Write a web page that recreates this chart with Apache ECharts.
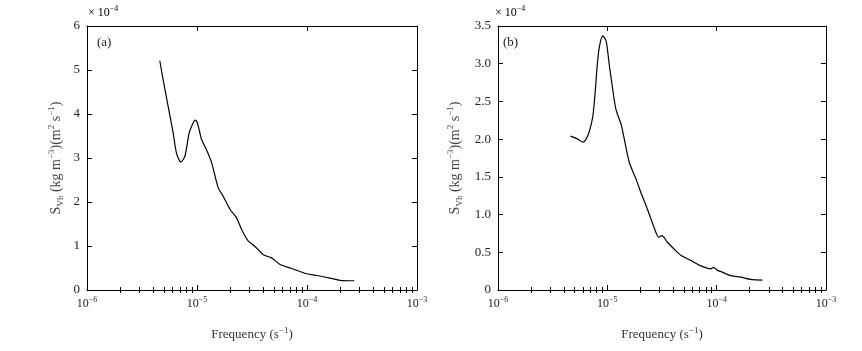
<!DOCTYPE html>
<html>
<head>
    <meta charset="utf-8">
    <title>S_Vh spectra</title>
    <script type="text/javascript" src="https://cdn.jsdelivr.net/npm/echarts@6/dist/echarts.min.js"></script>
    <style>
        html, body { margin: 0; padding: 0; background: #fff; }
    </style>
</head>
<body>
    <div id="root" style="width: 862px; height: 351px;"></div>
<script type="text/javascript">
// values, y in units of 1e-4
var freqA = [4.59e-6, 4.92e-6, 5.47e-6, 6.07e-6, 6.51e-6, 7.13e-6, 7.76e-6, 8.49e-6, 9.24e-6, 9.6e-6, 1.0e-5, 1.047e-5, 1.10e-5, 1.22e-5, 1.36e-5, 1.56e-5, 1.73e-5, 2.0e-5, 2.29e-5, 2.55e-5, 2.93e-5, 3.37e-5, 4.01e-5, 4.77e-5, 5.69e-5, 7.02e-5, 8.65e-5, 9.95e-5, 1.23e-4, 1.62e-4, 2.0e-4, 2.69e-4];
var specA = [5.21, 4.78, 4.17, 3.57, 3.11, 2.91, 3.04, 3.57, 3.80, 3.86, 3.82, 3.64, 3.42, 3.19, 2.89, 2.32, 2.13, 1.83, 1.64, 1.37, 1.11, 0.99, 0.80, 0.73, 0.58, 0.50, 0.42, 0.37, 0.33, 0.27, 0.22, 0.21];

var freqB = [4.61e-6, 5.37e-6, 5.97e-6, 6.40e-6, 6.87e-6, 7.36e-6, 7.73e-6, 8.07e-6, 8.47e-6, 9.08e-6, 9.75e-6, 1.045e-5, 1.12e-5, 1.20e-5, 1.34e-5, 1.43e-5, 1.59e-5, 1.83e-5, 2.03e-5, 2.26e-5, 2.51e-5, 2.79e-5, 2.95e-5, 3.16e-5, 3.56e-5, 4.10e-5, 4.71e-5, 5.82e-5, 7.17e-5, 8.85e-5, 9.35e-5, 1.02e-4, 1.11e-4, 1.35e-4, 1.66e-4, 2.05e-4, 2.62e-4];
var specB = [2.04, 2.00, 1.96, 2.00, 2.11, 2.30, 2.61, 2.97, 3.23, 3.37, 3.30, 2.97, 2.66, 2.39, 2.19, 2.00, 1.69, 1.47, 1.29, 1.12, 0.94, 0.76, 0.70, 0.72, 0.63, 0.54, 0.46, 0.39, 0.32, 0.28, 0.30, 0.26, 0.24, 0.19, 0.17, 0.14, 0.13];

var panelTags = ['(a)', '(b)'];
var yMax = [6, 3.5];
var yStep = [1, 0.5];

var myChart = echarts.init(document.getElementById('root'));
var font = 'Liberation Serif';
var ink = '#222';

// minor tick positions (log10 of 2..9 x 10^n), drawn on a hidden linear axis
var minorLog = [];
for (var n = -6; n < -3; n++) {
    for (var k = 2; k <= 9; k++) minorLog.push(Math.log10(k) + n);
}

var supRich = {
    sup: { fontSize: 8, fontFamily: font, color: ink, verticalAlign: 'top', lineHeight: 8 },
    b: { fontSize: 12, fontFamily: font, color: ink, lineHeight: 16 }
};
var nameRich = {
    sup: { fontSize: 9, fontFamily: font, color: '#333', verticalAlign: 'top', lineHeight: 9 },
    b: { fontSize: 13, fontFamily: font, color: '#333', lineHeight: 17 }
};

function logX(grid, pos, main) {
    return {
        type: 'log', logBase: 10, gridIndex: grid, position: pos,
        min: 1e-6, max: 1e-3,
        name: main ? '{b|Frequency (s}{sup|\u22121}{b|)}' : '',
        nameLocation: 'middle', nameGap: 36,
        nameTextStyle: { rich: nameRich },
        axisLine: { show: true, onZero: false, lineStyle: { color: '#000', width: 1 } },
        axisTick: { show: true, inside: true, length: 5, lineStyle: { color: '#000' } },
        axisLabel: {
            show: main, margin: 6,
            formatter: function (v) {
                return '{b|10}{sup|\u2212' + Math.abs(Math.round(Math.log10(v))) + '}';
            },
            rich: supRich
        },
        splitLine: { show: false }
    };
}

function minorX(grid, pos) {
    return {
        type: 'value', gridIndex: grid, position: pos, min: -6, max: -3,
        axisLine: { show: false },
        axisTick: { show: true, inside: true, length: 3, customValues: minorLog, lineStyle: { color: '#000' } },
        axisLabel: { show: false },
        splitLine: { show: false }
    };
}

function valY(i, pos, main) {
    return {
        type: 'value', gridIndex: i, position: pos,
        min: 0, max: yMax[i], interval: yStep[i],
        name: main ? '{b|S}{sub|Vh}{b| (kg m}{sup|\u22123}{b|)(m}{sup|2}{b| s}{sup|\u22121}{b|)}' : '',
        nameLocation: 'middle', nameRotate: 90, nameGap: i === 0 ? 22 : 34,
        nameTextStyle: {
            rich: {
                sub: { fontSize: 9, fontFamily: font, color: '#444', verticalAlign: 'bottom', lineHeight: 9 },
                sup: { fontSize: 9, fontFamily: font, color: '#444', verticalAlign: 'top', lineHeight: 9 },
                b: { fontSize: 14, fontFamily: font, color: '#444', lineHeight: 18 }
            }
        },
        axisLine: { show: true, onZero: false, lineStyle: { color: '#000', width: 1 } },
        axisTick: { show: true, inside: true, length: 5, lineStyle: { color: '#000' } },
        axisLabel: {
            show: main, margin: 7, fontFamily: font, fontSize: 13, color: ink,
            formatter: function (v) { return (v === 0 || yStep[i] >= 1) ? String(v) : v.toFixed(1); }
        },
        splitLine: { show: false }
    };
}

function spectrum(i, fx, sy) {
    var pts = fx.map(function (f, j) { return [f, sy[j]]; });
    return {
        type: 'line', xAxisIndex: i * 4, yAxisIndex: i * 2,
        data: pts, showSymbol: false, smooth: 0.25,
        lineStyle: { color: '#000', width: 1.2 },
        silent: true
    };
}

var option = {
    animation: false,
    backgroundColor: '#fff',
    grid: [
        { left: 87, right: 445, top: 26, bottom: 61 },
        { left: 498, right: 36, top: 26, bottom: 61 }
    ],
    xAxis: [
        logX(0, 'bottom', true), logX(0, 'top', false), minorX(0, 'bottom'), minorX(0, 'top'),
        logX(1, 'bottom', true), logX(1, 'top', false), minorX(1, 'bottom'), minorX(1, 'top')
    ],
    yAxis: [
        valY(0, 'left', true), valY(0, 'right', false),
        valY(1, 'left', true), valY(1, 'right', false)
    ],
    series: [spectrum(0, freqA, specA), spectrum(1, freqB, specB)],
    graphic: [
        { type: 'text', left: 88, top: 5, style: { text: '{b|\u00d7 10}{sup|\u22124}', rich: supRich } },
        { type: 'text', left: 495, top: 5, style: { text: '{b|\u00d7 10}{sup|\u22124}', rich: supRich } },
        { type: 'text', left: 97, top: 36, style: { text: panelTags[0], font: '13px ' + font, fill: ink } },
        { type: 'text', left: 503, top: 36, style: { text: panelTags[1], font: '13px ' + font, fill: ink } }
    ]
};

myChart.setOption(option, true);
</script>
</body>
</html>
